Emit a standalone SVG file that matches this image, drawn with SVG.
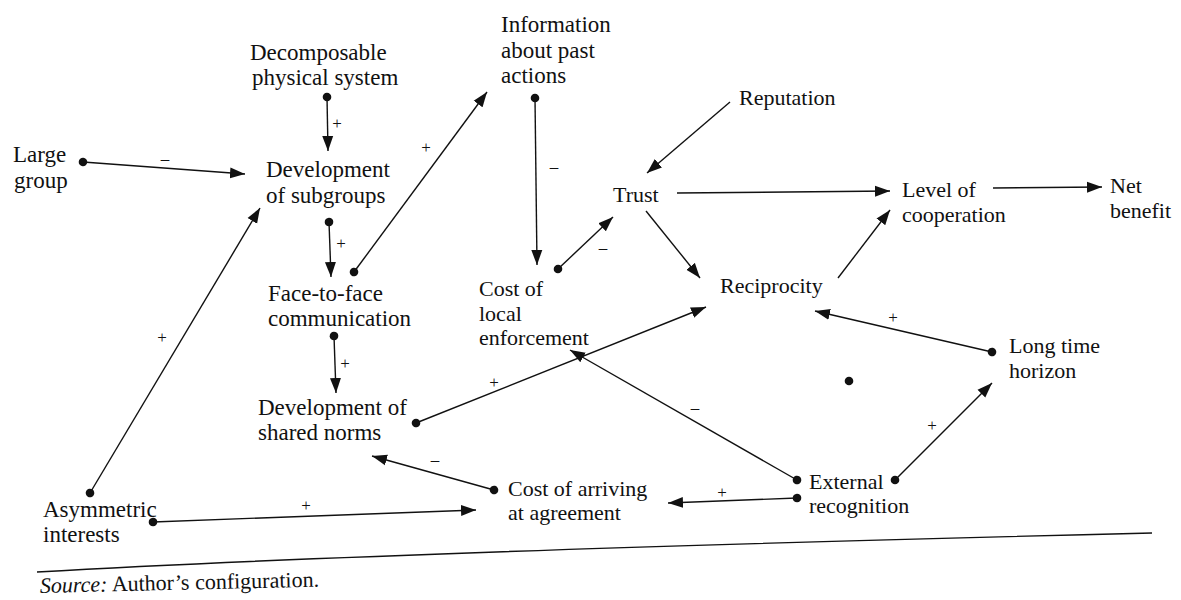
<svg xmlns="http://www.w3.org/2000/svg" width="1181" height="600" viewBox="0 0 1181 600">
<style>
text{font-family:'Liberation Serif','DejaVu Serif',serif}
.t{font-size:22px;fill:#111}
.L{font-size:23px}
.s{font-size:17px;fill:#111;text-anchor:middle}
.c{stroke:#111;stroke-width:1.4;fill:none}
.cn line{stroke:#111;stroke-width:1.4}
.d{marker-start:url(#dot)}
.a{marker-end:url(#arr)}
</style>
<defs>
<marker id="arr" markerUnits="userSpaceOnUse" markerWidth="16" markerHeight="12" refX="15" refY="6" orient="auto"><path d="M0,0.5 L15,6 L0,11.5 z" fill="#111"/></marker>
<marker id="dot" markerUnits="userSpaceOnUse" markerWidth="10" markerHeight="10" refX="5" refY="5" orient="auto"><circle cx="5" cy="5" r="4.3" fill="#111"/></marker>
</defs>
<rect width="1181" height="600" fill="#fff"/>

<g id="connectors" class="cn">
<line class="d a" x1="327" y1="97" x2="328" y2="151"/>
<line class="d a" x1="83" y1="162" x2="245" y2="174"/>
<line class="d a" x1="90" y1="493" x2="260" y2="208"/>
<line class="d a" x1="329" y1="222" x2="331" y2="277"/>
<line class="d a" x1="354" y1="272" x2="487" y2="92"/>
<line class="d a" x1="535" y1="98" x2="537" y2="265"/>
<line class="d a" x1="558" y1="269" x2="613" y2="217"/>
<line class="a" x1="730" y1="102" x2="647" y2="173"/>
<line class="a" x1="677" y1="193" x2="890" y2="191"/>
<line class="a" x1="646" y1="211" x2="700" y2="278"/>
<line class="a" x1="838" y1="278" x2="890" y2="210"/>
<line class="a" x1="993" y1="188" x2="1102" y2="187"/>
<line class="d a" x1="334" y1="336" x2="336" y2="393"/>
<line class="d a" x1="416" y1="423" x2="706" y2="307"/>
<line class="d a" x1="494" y1="490" x2="372" y2="456"/>
<line class="d a" x1="153" y1="522" x2="476" y2="510"/>
<line class="d a" x1="797" y1="480" x2="570" y2="350"/>
<line class="d a" x1="797" y1="498" x2="668" y2="503"/>
<line class="d a" x1="992" y1="352" x2="815" y2="311"/>
<line class="d a" x1="895" y1="480" x2="992" y2="383"/>
<circle cx="849" cy="381" r="4.3" fill="#111"/>
</g>

<g id="signs">
<text class="s" x="337" y="129">+</text>
<text class="s" x="165" y="164">–</text>
<text class="s" x="162" y="343">+</text>
<text class="s" x="341" y="249">+</text>
<text class="s" x="426" y="153">+</text>
<text class="s" x="554" y="172">–</text>
<text class="s" x="603" y="253">–</text>
<text class="s" x="345" y="369">+</text>
<text class="s" x="494" y="388">+</text>
<text class="s" x="435" y="465">–</text>
<text class="s" x="306" y="511">+</text>
<text class="s" x="695" y="413">–</text>
<text class="s" x="722" y="498">+</text>
<text class="s" x="893" y="323">+</text>
<text class="s" x="932" y="431">+</text>
</g>

<g id="n-decomposable"><text class="t L" x="250" y="60">Decomposable</text><text class="t L" x="252" y="85">physical system</text></g>
<g id="n-large-group"><text class="t L" x="13" y="162">Large</text><text class="t L" x="14" y="188">group</text></g>
<g id="n-dev-subgroups"><text class="t L" x="266" y="177">Development</text><text class="t L" x="266" y="203">of subgroups</text></g>
<g id="n-information"><text class="t L" x="501" y="32">Information</text><text class="t L" x="501" y="58">about past</text><text class="t L" x="501" y="83">actions</text></g>
<g id="n-reputation"><text class="t" x="739" y="105">Reputation</text></g>
<g id="n-trust"><text class="t" x="613" y="202">Trust</text></g>
<g id="n-level"><text class="t" x="902" y="197">Level of</text><text class="t" x="902" y="222">cooperation</text></g>
<g id="n-net"><text class="t" x="1110" y="193">Net</text><text class="t" x="1110" y="218">benefit</text></g>
<g id="n-face"><text class="t L" x="268" y="301">Face-to-face</text><text class="t L" x="268" y="326">communication</text></g>
<g id="n-cost-local"><text class="t" x="479" y="296">Cost of</text><text class="t" x="479" y="321">local</text><text class="t" x="479" y="345">enforcement</text></g>
<g id="n-reciprocity"><text class="t" x="720" y="293">Reciprocity</text></g>
<g id="n-long-time"><text class="t" x="1009" y="353">Long time</text><text class="t" x="1009" y="378">horizon</text></g>
<g id="n-shared-norms"><text class="t L" x="258" y="415">Development of</text><text class="t L" x="258" y="440">shared norms</text></g>
<g id="n-cost-arriving"><text class="t" x="508" y="496">Cost of arriving</text><text class="t" x="508" y="520">at agreement</text></g>
<g id="n-external"><text class="t" x="809" y="489">External</text><text class="t" x="809" y="513">recognition</text></g>
<g id="n-asymmetric"><text class="t L" x="43" y="517">Asymmetric</text><text class="t L" x="43" y="542">interests</text></g>

<path class="c" d="M37,572 C300,557 700,544 1152,533" stroke-width="2.4"/>
<text class="t" x="40" y="593" transform="rotate(-1.3 40 593)" font-size="20"><tspan font-style="italic">Source:</tspan> Author’s configuration.</text>
</svg>
